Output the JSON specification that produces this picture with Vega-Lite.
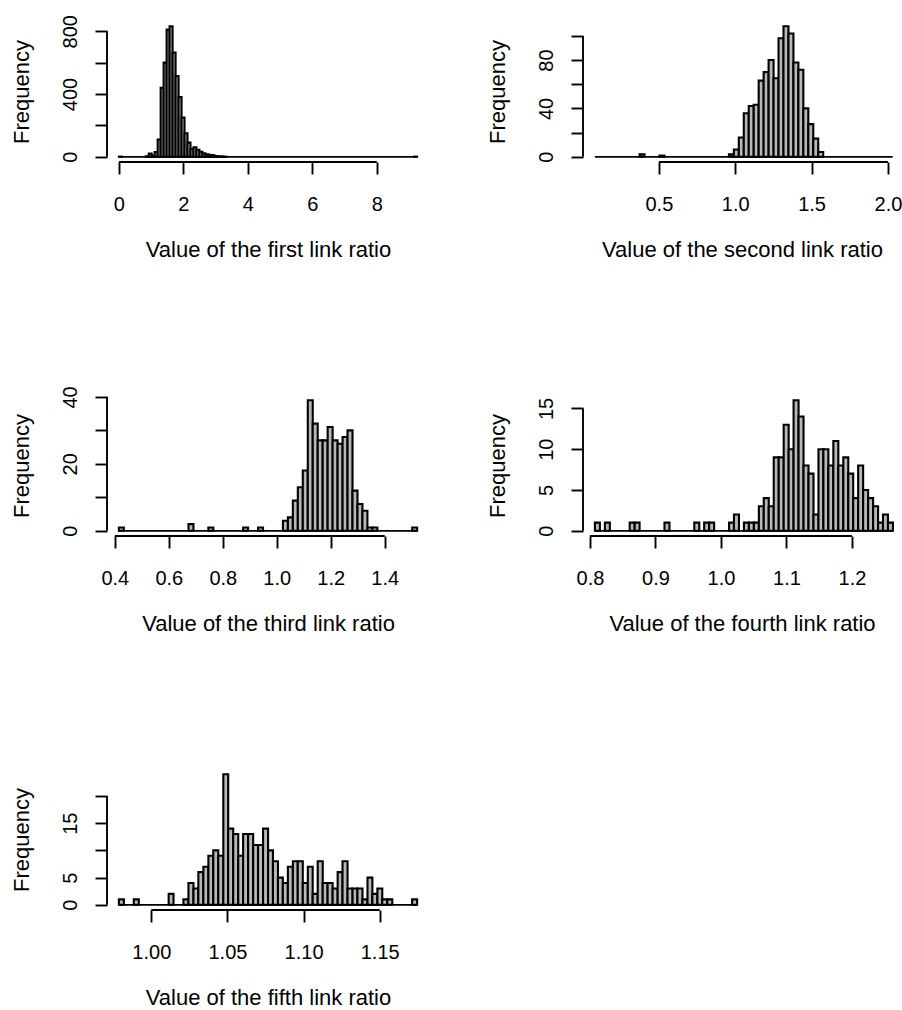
{
  "$schema": "https://vega.github.io/schema/vega-lite/v6.json",
  "background": "white",
  "padding": {"left": 10, "top": 14, "right": 0, "bottom": 0},
  "columns": 2,
  "spacing": {"row": 233, "column": 154},
  "bounds": "flush",
  "resolve": {"scale": {"x": "independent", "y": "independent"}},
  "datasets": {
    "p1": [
      {"lo": 0, "hi": 0.0925, "n": 1},
      {"lo": 0.8325, "hi": 0.925, "n": 3},
      {"lo": 0.925, "hi": 1.0175, "n": 20},
      {"lo": 1.0175, "hi": 1.11, "n": 7},
      {"lo": 1.11, "hi": 1.2025, "n": 30},
      {"lo": 1.2025, "hi": 1.295, "n": 110},
      {"lo": 1.295, "hi": 1.3875, "n": 440},
      {"lo": 1.3875, "hi": 1.48, "n": 600},
      {"lo": 1.48, "hi": 1.5725, "n": 810},
      {"lo": 1.5725, "hi": 1.665, "n": 832},
      {"lo": 1.665, "hi": 1.7575, "n": 665},
      {"lo": 1.7575, "hi": 1.85, "n": 515},
      {"lo": 1.85, "hi": 1.9425, "n": 380},
      {"lo": 1.9425, "hi": 2.035, "n": 250},
      {"lo": 2.035, "hi": 2.1275, "n": 150},
      {"lo": 2.1275, "hi": 2.22, "n": 90},
      {"lo": 2.22, "hi": 2.3125, "n": 50},
      {"lo": 2.3125, "hi": 2.405, "n": 60},
      {"lo": 2.405, "hi": 2.4975, "n": 45},
      {"lo": 2.4975, "hi": 2.59, "n": 32},
      {"lo": 2.59, "hi": 2.6825, "n": 22},
      {"lo": 2.6825, "hi": 2.775, "n": 16},
      {"lo": 2.775, "hi": 2.8675, "n": 12},
      {"lo": 2.8675, "hi": 2.96, "n": 10},
      {"lo": 2.96, "hi": 3.0525, "n": 5},
      {"lo": 3.0525, "hi": 3.145, "n": 3},
      {"lo": 3.145, "hi": 3.2375, "n": 2},
      {"lo": 3.2375, "hi": 3.33, "n": 1},
      {"lo": 9.1575, "hi": 9.25, "n": 1}
    ],
    "p2": [
      {"lo": 0.3735, "hi": 0.406, "n": 2},
      {"lo": 0.5035, "hi": 0.536, "n": 1},
      {"lo": 0.9585, "hi": 0.991, "n": 2},
      {"lo": 0.991, "hi": 1.0235, "n": 6},
      {"lo": 1.0235, "hi": 1.056, "n": 16},
      {"lo": 1.056, "hi": 1.0885, "n": 36},
      {"lo": 1.0885, "hi": 1.121, "n": 42},
      {"lo": 1.121, "hi": 1.1535, "n": 43},
      {"lo": 1.1535, "hi": 1.186, "n": 63},
      {"lo": 1.186, "hi": 1.2185, "n": 70},
      {"lo": 1.2185, "hi": 1.251, "n": 80},
      {"lo": 1.251, "hi": 1.2835, "n": 65},
      {"lo": 1.2835, "hi": 1.316, "n": 98},
      {"lo": 1.316, "hi": 1.3485, "n": 108},
      {"lo": 1.3485, "hi": 1.381, "n": 102},
      {"lo": 1.381, "hi": 1.4135, "n": 78},
      {"lo": 1.4135, "hi": 1.446, "n": 72},
      {"lo": 1.446, "hi": 1.4785, "n": 40},
      {"lo": 1.4785, "hi": 1.511, "n": 27},
      {"lo": 1.511, "hi": 1.5435, "n": 15},
      {"lo": 1.5435, "hi": 1.576, "n": 4}
    ],
    "p3": [
      {"lo": 0.415, "hi": 0.4334, "n": 1},
      {"lo": 0.6728, "hi": 0.6913, "n": 2},
      {"lo": 0.7465, "hi": 0.7649, "n": 1},
      {"lo": 0.8754, "hi": 0.8938, "n": 1},
      {"lo": 0.9307, "hi": 0.9491, "n": 1},
      {"lo": 1.0228, "hi": 1.0412, "n": 3},
      {"lo": 1.0412, "hi": 1.0596, "n": 4},
      {"lo": 1.0596, "hi": 1.078, "n": 9},
      {"lo": 1.078, "hi": 1.0964, "n": 13},
      {"lo": 1.0964, "hi": 1.1149, "n": 18},
      {"lo": 1.1149, "hi": 1.1333, "n": 39},
      {"lo": 1.1333, "hi": 1.1517, "n": 32},
      {"lo": 1.1517, "hi": 1.1701, "n": 27},
      {"lo": 1.1701, "hi": 1.1885, "n": 27},
      {"lo": 1.1885, "hi": 1.2069, "n": 31},
      {"lo": 1.2069, "hi": 1.2254, "n": 27},
      {"lo": 1.2254, "hi": 1.2438, "n": 26},
      {"lo": 1.2438, "hi": 1.2622, "n": 28},
      {"lo": 1.2622, "hi": 1.2806, "n": 30},
      {"lo": 1.2806, "hi": 1.299, "n": 12},
      {"lo": 1.299, "hi": 1.3174, "n": 8},
      {"lo": 1.3174, "hi": 1.3359, "n": 6},
      {"lo": 1.3359, "hi": 1.3543, "n": 1},
      {"lo": 1.3543, "hi": 1.3727, "n": 1},
      {"lo": 1.5016, "hi": 1.52, "n": 1}
    ],
    "p4": [
      {"lo": 0.8076, "hi": 0.8152, "n": 1},
      {"lo": 0.8228, "hi": 0.8304, "n": 1},
      {"lo": 0.8607, "hi": 0.8683, "n": 1},
      {"lo": 0.8683, "hi": 0.8758, "n": 1},
      {"lo": 0.9138, "hi": 0.9214, "n": 1},
      {"lo": 0.9593, "hi": 0.9669, "n": 1},
      {"lo": 0.9744, "hi": 0.982, "n": 1},
      {"lo": 0.982, "hi": 0.9896, "n": 1},
      {"lo": 1.0124, "hi": 1.0199, "n": 1},
      {"lo": 1.0199, "hi": 1.0275, "n": 2},
      {"lo": 1.0351, "hi": 1.0427, "n": 1},
      {"lo": 1.0427, "hi": 1.0503, "n": 1},
      {"lo": 1.0503, "hi": 1.0579, "n": 1},
      {"lo": 1.0579, "hi": 1.0654, "n": 3},
      {"lo": 1.0654, "hi": 1.073, "n": 4},
      {"lo": 1.073, "hi": 1.0806, "n": 3},
      {"lo": 1.0806, "hi": 1.0882, "n": 9},
      {"lo": 1.0882, "hi": 1.0958, "n": 9},
      {"lo": 1.0958, "hi": 1.1034, "n": 13},
      {"lo": 1.1034, "hi": 1.1109, "n": 10},
      {"lo": 1.1109, "hi": 1.1185, "n": 16},
      {"lo": 1.1185, "hi": 1.1261, "n": 14},
      {"lo": 1.1261, "hi": 1.1337, "n": 8},
      {"lo": 1.1337, "hi": 1.1413, "n": 7},
      {"lo": 1.1413, "hi": 1.1489, "n": 2},
      {"lo": 1.1489, "hi": 1.1564, "n": 10},
      {"lo": 1.1564, "hi": 1.164, "n": 10},
      {"lo": 1.164, "hi": 1.1716, "n": 8},
      {"lo": 1.1716, "hi": 1.1792, "n": 11},
      {"lo": 1.1792, "hi": 1.1868, "n": 8},
      {"lo": 1.1868, "hi": 1.1944, "n": 9},
      {"lo": 1.1944, "hi": 1.2019, "n": 7},
      {"lo": 1.2019, "hi": 1.2095, "n": 4},
      {"lo": 1.2095, "hi": 1.2171, "n": 8},
      {"lo": 1.2171, "hi": 1.2247, "n": 5},
      {"lo": 1.2247, "hi": 1.2323, "n": 4},
      {"lo": 1.2323, "hi": 1.2399, "n": 3},
      {"lo": 1.2399, "hi": 1.2474, "n": 1},
      {"lo": 1.2474, "hi": 1.255, "n": 2},
      {"lo": 1.255, "hi": 1.2626, "n": 1}
    ],
    "p5": [
      {"lo": 0.9787, "hi": 0.982, "n": 1},
      {"lo": 0.9885, "hi": 0.9918, "n": 1},
      {"lo": 1.0114, "hi": 1.0146, "n": 2},
      {"lo": 1.0211, "hi": 1.0244, "n": 1},
      {"lo": 1.0244, "hi": 1.0277, "n": 4},
      {"lo": 1.0277, "hi": 1.0309, "n": 3},
      {"lo": 1.0309, "hi": 1.0342, "n": 6},
      {"lo": 1.0342, "hi": 1.0375, "n": 7},
      {"lo": 1.0375, "hi": 1.0407, "n": 9},
      {"lo": 1.0407, "hi": 1.044, "n": 10},
      {"lo": 1.044, "hi": 1.0473, "n": 9},
      {"lo": 1.0473, "hi": 1.0505, "n": 24},
      {"lo": 1.0505, "hi": 1.0538, "n": 14},
      {"lo": 1.0538, "hi": 1.0571, "n": 13},
      {"lo": 1.0571, "hi": 1.0603, "n": 9},
      {"lo": 1.0603, "hi": 1.0636, "n": 13},
      {"lo": 1.0636, "hi": 1.0669, "n": 13},
      {"lo": 1.0669, "hi": 1.0701, "n": 11},
      {"lo": 1.0701, "hi": 1.0734, "n": 11},
      {"lo": 1.0734, "hi": 1.0767, "n": 14},
      {"lo": 1.0767, "hi": 1.0799, "n": 10},
      {"lo": 1.0799, "hi": 1.0832, "n": 8},
      {"lo": 1.0832, "hi": 1.0864, "n": 5},
      {"lo": 1.0864, "hi": 1.0897, "n": 4},
      {"lo": 1.0897, "hi": 1.093, "n": 7},
      {"lo": 1.093, "hi": 1.0962, "n": 8},
      {"lo": 1.0962, "hi": 1.0995, "n": 8},
      {"lo": 1.0995, "hi": 1.1028, "n": 4},
      {"lo": 1.1028, "hi": 1.106, "n": 7},
      {"lo": 1.106, "hi": 1.1093, "n": 2},
      {"lo": 1.1093, "hi": 1.1126, "n": 8},
      {"lo": 1.1126, "hi": 1.1158, "n": 4},
      {"lo": 1.1158, "hi": 1.1191, "n": 4},
      {"lo": 1.1191, "hi": 1.1224, "n": 3},
      {"lo": 1.1224, "hi": 1.1256, "n": 6},
      {"lo": 1.1256, "hi": 1.1289, "n": 8},
      {"lo": 1.1289, "hi": 1.1322, "n": 3},
      {"lo": 1.1322, "hi": 1.1354, "n": 3},
      {"lo": 1.1354, "hi": 1.1387, "n": 3},
      {"lo": 1.1387, "hi": 1.142, "n": 1},
      {"lo": 1.142, "hi": 1.1452, "n": 5},
      {"lo": 1.1452, "hi": 1.1485, "n": 2},
      {"lo": 1.1485, "hi": 1.1517, "n": 3},
      {"lo": 1.1517, "hi": 1.155, "n": 1},
      {"lo": 1.155, "hi": 1.1583, "n": 1},
      {"lo": 1.1713, "hi": 1.1746, "n": 1}
    ]
  },
  "concat": [
    {
      "width": 322, "height": 141,
      "layer": [
        {"data": {"values": [{}]}, "mark": {"type": "rule", "color": "#000", "strokeWidth": 1.8},
         "encoding": {"x": {"datum": 0}, "x2": {"datum": 9.25}, "y": {"datum": 0}}},
        {"data": {"name": "p1"},
         "mark": {"type": "bar", "fill": "#b8b8b8", "stroke": "#000", "strokeWidth": 2.1, "orient": "vertical"},
         "encoding": {
           "x": {"field": "lo", "type": "quantitative",
                 "scale": {"domain": [-0.37, 9.62], "nice": false, "zero": false, "padding": 0},
                 "axis": {"values": [0, 2, 4, 6, 8], "format": "d", "title": "Value of the first link ratio"}},
           "x2": {"field": "hi"},
           "y": {"field": "n", "type": "quantitative",
                 "scale": {"domain": [-33.28, 865.28], "nice": false, "zero": false, "padding": 0},
                 "axis": {"values": [0, 200, 400, 600, 800], "title": "Frequency",
                          "labelExpr": "datum.value % 400 === 0 ? datum.label : ''"}},
           "y2": {"datum": 0}
         }},
        {"data": {"values": [{}]}, "mark": {"type": "rule", "color": "#000", "strokeWidth": 1.9},
         "encoding": {"x": {"datum": 0}, "x2": {"datum": 8}, "y": {"datum": -33.28}}},
        {"data": {"values": [{}]}, "mark": {"type": "rule", "color": "#000", "strokeWidth": 1.9},
         "encoding": {"x": {"datum": -0.37}, "y": {"datum": 0}, "y2": {"datum": 800}}}
      ]
    },
    {
      "width": 318, "height": 141,
      "layer": [
        {"data": {"values": [{}]}, "mark": {"type": "rule", "color": "#000", "strokeWidth": 1.8},
         "encoding": {"x": {"datum": 0.081}, "x2": {"datum": 2.031}, "y": {"datum": 0}}},
        {"data": {"name": "p2"},
         "mark": {"type": "bar", "fill": "#b8b8b8", "stroke": "#000", "strokeWidth": 2.1, "orient": "vertical"},
         "encoding": {
           "x": {"field": "lo", "type": "quantitative",
                 "scale": {"domain": [0.003, 2.0855], "nice": false, "zero": false, "padding": 0},
                 "axis": {"values": [0.5, 1.0, 1.5, 2.0], "format": ".1f", "title": "Value of the second link ratio"}},
           "x2": {"field": "hi"},
           "y": {"field": "n", "type": "quantitative",
                 "scale": {"domain": [-4.32, 112.32], "nice": false, "zero": false, "padding": 0},
                 "axis": {"values": [0, 20, 40, 60, 80, 100], "title": "Frequency",
                          "labelExpr": "datum.value % 40 === 0 ? datum.label : ''"}},
           "y2": {"datum": 0}
         }},
        {"data": {"values": [{}]}, "mark": {"type": "rule", "color": "#000", "strokeWidth": 1.9},
         "encoding": {"x": {"datum": 0.5}, "x2": {"datum": 2.0}, "y": {"datum": -4.32}}},
        {"data": {"values": [{}]}, "mark": {"type": "rule", "color": "#000", "strokeWidth": 1.9},
         "encoding": {"x": {"datum": 0.003}, "y": {"datum": 0}, "y2": {"datum": 100}}}
      ]
    },
    {
      "width": 322, "height": 141,
      "layer": [
        {"data": {"values": [{}]}, "mark": {"type": "rule", "color": "#000", "strokeWidth": 1.8},
         "encoding": {"x": {"datum": 0.415}, "x2": {"datum": 1.52}, "y": {"datum": 0}}},
        {"data": {"name": "p3"},
         "mark": {"type": "bar", "fill": "#b8b8b8", "stroke": "#000", "strokeWidth": 2.1, "orient": "vertical"},
         "encoding": {
           "x": {"field": "lo", "type": "quantitative",
                 "scale": {"domain": [0.371, 1.564], "nice": false, "zero": false, "padding": 0},
                 "axis": {"values": [0.4, 0.6, 0.8, 1.0, 1.2, 1.4], "format": ".1f", "title": "Value of the third link ratio"}},
           "x2": {"field": "hi"},
           "y": {"field": "n", "type": "quantitative",
                 "scale": {"domain": [-1.56, 40.56], "nice": false, "zero": false, "padding": 0},
                 "axis": {"values": [0, 10, 20, 30, 40], "title": "Frequency",
                          "labelExpr": "datum.value % 20 === 0 ? datum.label : ''"}},
           "y2": {"datum": 0}
         }},
        {"data": {"values": [{}]}, "mark": {"type": "rule", "color": "#000", "strokeWidth": 1.9},
         "encoding": {"x": {"datum": 0.4}, "x2": {"datum": 1.4}, "y": {"datum": -1.56}}},
        {"data": {"values": [{}]}, "mark": {"type": "rule", "color": "#000", "strokeWidth": 1.9},
         "encoding": {"x": {"datum": 0.371}, "y": {"datum": 0}, "y2": {"datum": 40}}}
      ]
    },
    {
      "width": 318, "height": 141,
      "layer": [
        {"data": {"values": [{}]}, "mark": {"type": "rule", "color": "#000", "strokeWidth": 1.8},
         "encoding": {"x": {"datum": 0.8076}, "x2": {"datum": 1.2626}, "y": {"datum": 0}}},
        {"data": {"name": "p4"},
         "mark": {"type": "bar", "fill": "#b8b8b8", "stroke": "#000", "strokeWidth": 2.1, "orient": "vertical"},
         "encoding": {
           "x": {"field": "lo", "type": "quantitative",
                 "scale": {"domain": [0.7894, 1.2749], "nice": false, "zero": false, "padding": 0},
                 "axis": {"values": [0.8, 0.9, 1.0, 1.1, 1.2], "format": ".1f", "title": "Value of the fourth link ratio"}},
           "x2": {"field": "hi"},
           "y": {"field": "n", "type": "quantitative",
                 "scale": {"domain": [-0.64, 16.64], "nice": false, "zero": false, "padding": 0},
                 "axis": {"values": [0, 5, 10, 15], "title": "Frequency"}},
           "y2": {"datum": 0}
         }},
        {"data": {"values": [{}]}, "mark": {"type": "rule", "color": "#000", "strokeWidth": 1.9},
         "encoding": {"x": {"datum": 0.8}, "x2": {"datum": 1.2}, "y": {"datum": -0.64}}},
        {"data": {"values": [{}]}, "mark": {"type": "rule", "color": "#000", "strokeWidth": 1.9},
         "encoding": {"x": {"datum": 0.7894}, "y": {"datum": 0}, "y2": {"datum": 15}}}
      ]
    },
    {
      "width": 322, "height": 141,
      "layer": [
        {"data": {"values": [{}]}, "mark": {"type": "rule", "color": "#000", "strokeWidth": 1.8},
         "encoding": {"x": {"datum": 0.9787}, "x2": {"datum": 1.1746}, "y": {"datum": 0}}},
        {"data": {"name": "p5"},
         "mark": {"type": "bar", "fill": "#b8b8b8", "stroke": "#000", "strokeWidth": 2.1, "orient": "vertical"},
         "encoding": {
           "x": {"field": "lo", "type": "quantitative",
                 "scale": {"domain": [0.9709, 1.1824], "nice": false, "zero": false, "padding": 0},
                 "axis": {"values": [1.0, 1.05, 1.1, 1.15], "format": ".2f", "title": "Value of the fifth link ratio"}},
           "x2": {"field": "hi"},
           "y": {"field": "n", "type": "quantitative",
                 "scale": {"domain": [-0.96, 24.96], "nice": false, "zero": false, "padding": 0},
                 "axis": {"values": [0, 5, 10, 15, 20], "title": "Frequency",
                          "labelExpr": "(datum.value == 10 || datum.value == 20) ? '' : datum.label"}},
           "y2": {"datum": 0}
         }},
        {"data": {"values": [{}]}, "mark": {"type": "rule", "color": "#000", "strokeWidth": 1.9},
         "encoding": {"x": {"datum": 1.0}, "x2": {"datum": 1.15}, "y": {"datum": -0.96}}},
        {"data": {"values": [{}]}, "mark": {"type": "rule", "color": "#000", "strokeWidth": 1.9},
         "encoding": {"x": {"datum": 0.9709}, "y": {"datum": 0}, "y2": {"datum": 20}}}
      ]
    }
  ],
  "config": {
    "view": {"stroke": null},
    "font": "Liberation Sans",
    "axis": {
      "domain": false, "grid": false, "tickCount": 20,
      "tickColor": "#000", "tickWidth": 1.9, "tickSize": 12,
      "labelColor": "#000", "labelFont": "Liberation Sans", "labelFontSize": 20,
      "labelFlush": false, "labelOverlap": false, "labelBound": false,
      "titleColor": "#000", "titleFont": "Liberation Sans", "titleFontSize": 22, "titleFontWeight": "normal"
    },
    "axisX": {"labelAngle": 0, "labelPadding": 20, "titlePadding": 25},
    "axisY": {"labelAngle": -90, "labelAlign": "center", "labelBaseline": "bottom", "labelPadding": 14.5, "titlePadding": 27.5}
  }
}
